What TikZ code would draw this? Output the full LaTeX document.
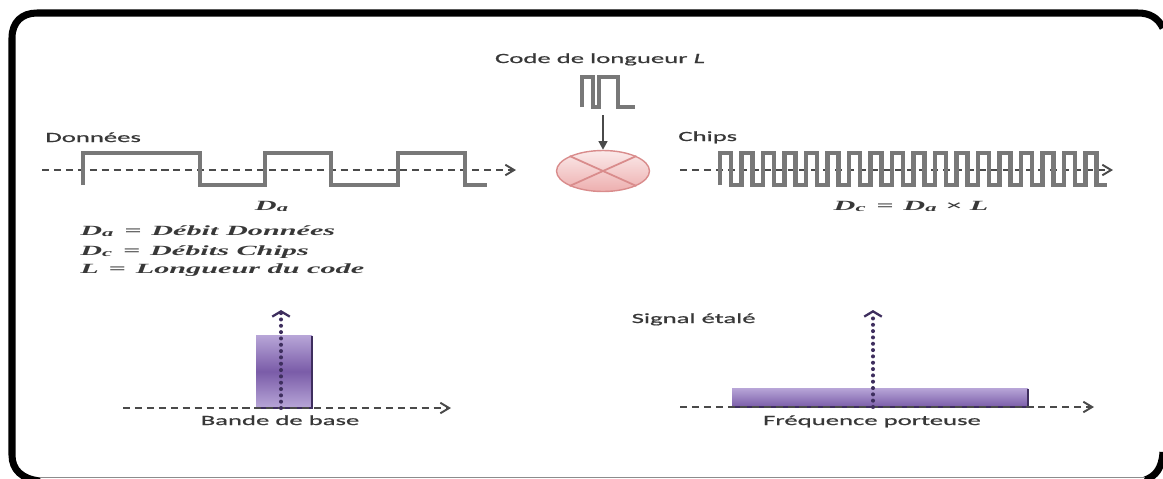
\documentclass[tikz,border=0pt]{standalone}
\usepackage{fontspec}
\usetikzlibrary{arrows.meta,shapes.geometric}

\newfontfamily\lblfont{Carlito}[FakeStretch=1.9, FakeBold=0.8]
\newfontfamily\eqfont{Liberation Serif}[FakeStretch=2.15]

\definecolor{wavegray}{HTML}{787878}
\definecolor{axisgray}{HTML}{4A4A4A}
\definecolor{txtgray}{HTML}{383838}
\definecolor{bandlight}{HTML}{B8A6D8}
\definecolor{banddark}{HTML}{7A5CA8}
\definecolor{bandedge}{HTML}{3E2E5E}
\definecolor{mixtop}{HTML}{FBEAEA}
\definecolor{mixbot}{HTML}{EDAFAF}
\definecolor{mixedge}{HTML}{D98C8C}

\tikzset{
  frame/.style={black, line width=4pt},
  wave/.style={wavegray, line width=2.3pt},
  axis/.style={axisgray, line width=1.1pt, dash pattern=on 4pt off 2.8pt,
    -{Straight Barb[length=5pt, width=6pt]}},
  dotaxis/.style={bandedge, line width=2.3pt, line cap=round,
    dash pattern=on 0pt off 3.6pt, -{Straight Barb[length=3pt, width=10pt, line width=1.3pt]}},
  feed/.style={axisgray, line width=1.2pt, -{Triangle[length=5pt, width=5pt]}},
  mixer/.style={ellipse, draw=mixedge, line width=0.8pt, top color=mixtop,
    bottom color=mixbot, minimum width=1.86cm, minimum height=0.82cm, inner sep=0pt},
  label/.style={font=\lblfont\fontsize{8}{9}\selectfont, text=txtgray, inner sep=0pt},
  eqn/.style={font=\eqfont\bfseries\itshape\fontsize{8}{9}\selectfont, text=txtgray, inner sep=0pt}
}

\begin{document}
\begin{tikzpicture}[x=0.02cm,y=-0.02cm]
\useasboundingbox (0,0) rectangle (1163,478);
% outer frame, cut by the page edges
\draw[frame] (1163,28) .. controls (1158,18) and (1150,13) .. (1138,13) -- (37,13)
  .. controls (22,13) and (12,22) .. (12,38) -- (12,455)
  .. controls (12,470) and (22,479) .. (40,481);
\draw[frame] (1163,452) .. controls (1162,468) and (1156,476) .. (1145,480);
\draw[black!45, line width=0.5pt] (40,477) -- (1145,477);

% data stream
\node[label, anchor=base west] (donnees) at (45,142) {Données};
\coordinate (datfrom) at (42,170);
\coordinate (datto) at (516,170);
\draw[axis] (datfrom) -- (datto);
\draw[wave] (83,185) -- (83,153) -- (200,153) -- (200,185) -- (265,185) -- (265,153)
  -- (331,153) -- (331,185) -- (398,185) -- (398,153) -- (465,153) -- (465,185) -- (487,185);
\node[eqn, anchor=base] (da) at (272,210) {D\textsubscript{a}};

% spreading code and multiplier
\node[label, anchor=base] (codelbl) at (600,63) {Code de longueur \textit{L}};
\draw[wave, line width=2pt] (582,107) -- (582,77) -- (593,77) -- (593,107) -- (599,107)
  -- (599,77) -- (618,77) -- (618,107) -- (635,107);
\coordinate (code) at (603,115);
\node[mixer] (mult) at (603,171) {};
\draw[mixedge, line width=1pt] (mult.north west) -- (mult.south east)
  (mult.north east) -- (mult.south west);
\draw[feed] (code) -- (mult);

% chip stream
\node[label, anchor=base west] (chips) at (678,141) {Chips};
\coordinate (chipfrom) at (680,170);
\coordinate (chipto) at (1113,170);
\draw[axis] (chipfrom) -- (chipto);
\draw[wave] (720,185) \foreach \k in {1,...,18} { -- ++(0,-32) -- ++(11,0) -- ++(0,32) -- ++(10.5,0) };
\node[eqn, anchor=base] (dc) at (911,210) {D\textsubscript{c} \,=\, D\textsubscript{a} × L};

% legend
\node[eqn, anchor=base west] (lega) at (80,235) {D\textsubscript{a} \,=\, Débit Données};
\node[eqn, anchor=base west] (legc) at (80,255) {D\textsubscript{c} \,=\, Débits Chips};
\node[eqn, anchor=base west] (legl) at (80,273) {L \,=\, Longueur du code};

% baseband spectrum
\coordinate (bbfrom) at (123,408);
\coordinate (bbto) at (451,408);
\shade[top color=bandlight, bottom color=bandlight, middle color=banddark] (256,335) rectangle (312,408);
\draw[bandedge, line width=1.1pt] (312,336) -- (312,408) -- (256,408);
\draw[axis] (bbfrom) -- (bbto);
\coordinate (bbmid) at (281,408);
\coordinate (bbup) at (281,310);
\draw[dotaxis] (bbmid) -- (bbup);
\node[label, anchor=base] (bande) at (280,425) {Bande de base};

% spread spectrum
\node[label, anchor=base east] (etale) at (756,323) {Signal étalé};
\coordinate (rffrom) at (680,407);
\coordinate (rfto) at (1094,407);
\shade[top color=bandlight, bottom color=banddark] (732,388) rectangle (1028,407);
\draw[bandedge, line width=1.1pt] (1028,389) -- (1028,407) -- (732,407);
\draw[axis] (rffrom) -- (rfto);
\coordinate (rfmid) at (873,407);
\coordinate (rfup) at (873,310);
\draw[dotaxis] (rfmid) -- (rfup);
\node[label, anchor=base] (porteuse) at (872,425) {Fréquence porteuse};
\end{tikzpicture}
\end{document}
